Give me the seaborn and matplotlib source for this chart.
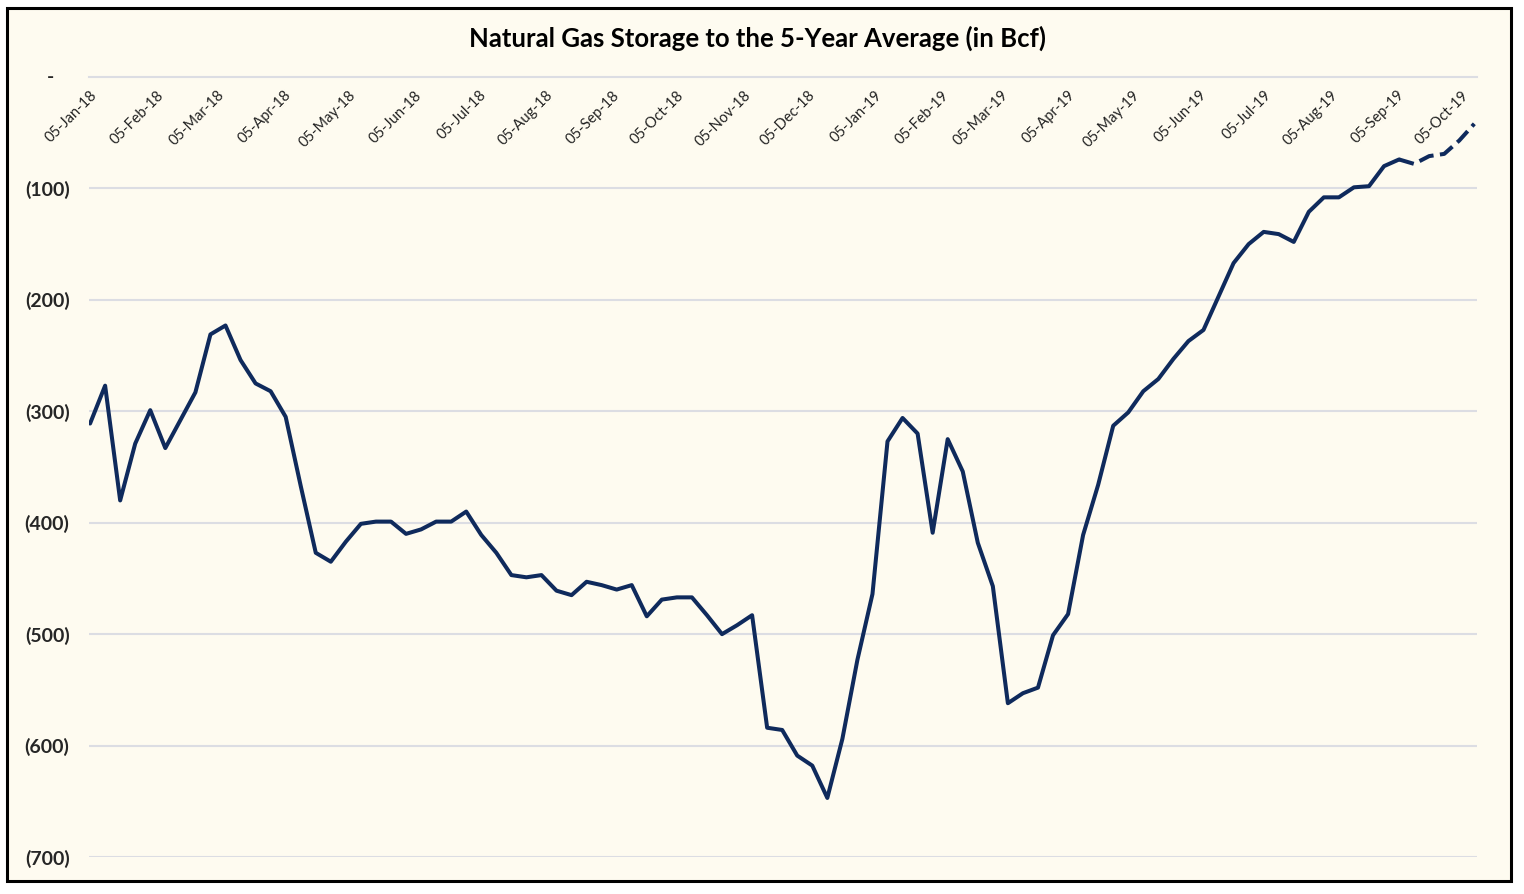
import matplotlib
matplotlib.use("Agg")
import matplotlib.pyplot as plt
import matplotlib.dates as mdates
from matplotlib.patches import Rectangle
from matplotlib.ticker import FuncFormatter
import pandas as pd
import seaborn as sns

# weekly storage vs 5-year average (Bcf)
start_date = "2018-01-05"
storage_vs_avg = [
    -311, -277, -380, -329, -299, -333, -308, -283, -231, -223,
    -254, -275, -282, -305, -367, -427, -435, -417, -401, -399,
    -399, -410, -406, -399, -399, -390, -411, -427, -447, -449,
    -447, -461, -465, -453, -456, -460, -456, -484, -469, -467,
    -467, -483, -500, -492, -483, -584, -586, -609, -618, -647,
    -594, -523, -464, -327, -306, -320, -409, -325, -354, -418,
    -457, -562, -553, -548, -501, -482, -411, -366, -313, -301,
    -282, -271, -253, -237, -227, -197, -167, -150, -139, -141,
    -148, -121, -108, -108, -99, -98, -80, -74, -78, -71,
    -69, -57, -42,
]
n_actual = 88  # points drawn solid; the rest is the dashed projection
y_ticks = [0, -100, -200, -300, -400, -500, -600, -700]
title = "Natural Gas Storage to the 5-Year Average (in Bcf)"

dates = pd.date_range(start_date, periods=len(storage_vs_avg), freq="W-FRI")
df = pd.DataFrame({"date": dates, "bcf": storage_vs_avg})

cream = "#fefbf0"
navy = "#0f2a5c"
grid_c = "#dcdde3"

sns.set_style("white")
plt.rcParams["font.family"] = ["Lato", "DejaVu Sans"]

fig = plt.figure(figsize=(15.24, 8.94), dpi=100, facecolor="white")
fig.patches.append(Rectangle((7 / 1524, 1 - 881 / 894), 1504 / 1524, 873 / 894,
                             transform=fig.transFigure, facecolor=cream,
                             edgecolor="black", linewidth=2.2, zorder=-10))
ax = fig.add_axes([89 / 1524, 1 - 857 / 894, 1388 / 1524, 780 / 894])
ax.set_facecolor("none")

sns.lineplot(data=df.iloc[:n_actual], x="date", y="bcf", ax=ax,
             color=navy, linewidth=2.9)
sns.lineplot(data=df.iloc[n_actual - 1:], x="date", y="bcf", ax=ax,
             color=navy, linewidth=2.9)
ax.lines[-1].set_dashes((3.8, 1.6))

ax.set_ylim(-700, 0)
ax.set_xlim(pd.Timestamp("2018-01-04 12:00"), pd.Timestamp("2019-10-12 06:00"))
ax.set_yticks(y_ticks)
ax.yaxis.set_major_formatter(FuncFormatter(
    lambda v, p: "" if v == 0 else f"({abs(int(v))})"))
ax.tick_params(axis="y", length=0, pad=14, labelsize=14)
for lbl in ax.get_yticklabels():
    lbl.set_fontweight("bold")
# accounting-style zero shown as a dash, sitting left of the other labels
ax.annotate("-", xy=(0, 0), xycoords=("axes fraction", "data"),
            xytext=(-39, 0), textcoords="offset pixels",
            ha="center", va="center", fontsize=14, fontweight="bold")

for yv in y_ticks[1:]:
    ax.axhline(yv, color=grid_c, linewidth=1.5, zorder=0)

# category axis sits at zero, labels hang below it inside the plot
for s in ["top", "left", "right"]:
    ax.spines[s].set_visible(False)
ax.spines["bottom"].set_position(("data", 0))
ax.spines["bottom"].set_color(grid_c)
ax.spines["bottom"].set_linewidth(1.5)
ax.xaxis.set_major_locator(mdates.MonthLocator(bymonthday=5))
ax.xaxis.set_major_formatter(mdates.DateFormatter("%d-%b-%y"))
ax.tick_params(axis="x", direction="out", length=5, width=1.2, color=grid_c,
               pad=3, labelsize=10.5, labelcolor="#222222")
for lbl in ax.get_xticklabels():
    lbl.set_rotation(45)
    lbl.set_ha("right")
    lbl.set_va("top")
    lbl.set_rotation_mode("anchor")
ax.set_xlabel("")
ax.set_ylabel("")

fig.text(0.497, 1 - 38 / 894, title, ha="center", va="center",
         fontsize=18.5, fontweight="bold", color="black")

fig.savefig("out.png", dpi=100, facecolor="white")
